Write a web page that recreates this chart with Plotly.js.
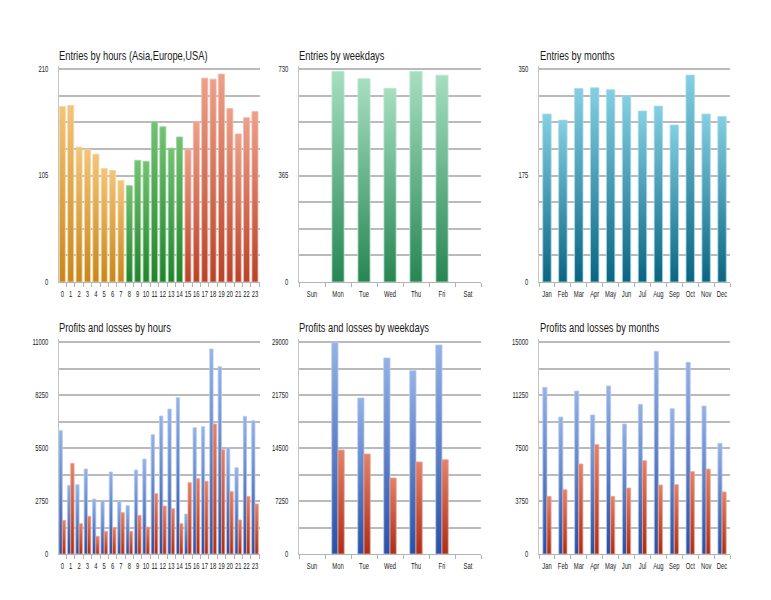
<!DOCTYPE html>
<html>
<head>
<meta charset="utf-8">
<script src="https://cdn.plot.ly/plotly-3.0.1.min.js"></script>
<style>
  html, body { margin: 0; padding: 0; background: #fff; }
  #chart { width: 771px; height: 600px; }
</style>
</head>
<body>
<div id="chart"></div>
<script>
// ---------------- data ----------------
const hourLabels = ['0','1','2','3','4','5','6','7','8','9','10','11','12','13','14','15','16','17','18','19','20','21','22','23'];
const hourSession = ['Asia','Asia','Asia','Asia','Asia','Asia','Asia','Asia','Europe','Europe','Europe','Europe','Europe','Europe','Europe','USA','USA','USA','USA','USA','USA','USA','USA','USA'];
const sessions = ['Asia','Europe','USA'];
const hourEntries = [173,174,133,131,126,112,110,100,95,120,119,158,153,132,143,131,158,201,200,205,171,146,162,168];

const weekdayLabels = ['Sun','Mon','Tue','Wed','Thu','Fri','Sat'];
const weekdayEntries = [0,722,697,664,722,709,0];

const monthLabels = ['Jan','Feb','Mar','Apr','May','Jun','Jul','Aug','Sep','Oct','Nov','Dec'];
const monthEntries = [276,266,318,319,316,306,281,289,258,340,276,272];

const hourProfit = [6399,3563,3597,4410,2854,2785,4255,2733,2508,4358,4929,6192,7160,7523,8111,2075,6555,6607,10636,9720,5517,4479,7143,6918];
const hourLoss   = [1747,4704,1574,1954,917,1176,1366,2145,1176,2006,1401,3130,2490,2352,1574,3701,3909,3770,6745,5413,3234,1764,2992,2594];

const weekdayProfit = [0,28950,21340,26810,25080,28590,0];
const weekdayLoss   = [0,14230,13680,10400,12590,12900,0];

const monthProfit = [11790,9690,11530,9840,11890,9200,10590,14340,10280,13560,10470,7830];
const monthLoss   = [4080,4550,6370,7740,4080,4670,6600,4880,4910,5830,6010,4390];

const panelTitles = ['Entries by hours (Asia,Europe,USA)','Entries by weekdays','Entries by months',
                     'Profits and losses by hours','Profits and losses by weekdays','Profits and losses by months'];
const yMax = [210, 730, 350, 11000, 29000, 15000];
const yLabelSteps = [2, 2, 2, 4, 4, 4];   // labelled ticks per axis (0 excluded)

// ---------------- styles ----------------
const FONT = '"Liberation Sans", Arial, sans-serif';
const SQUEEZE = 0.69;   // the reference's lettering is horizontally condensed
const grads = {
  Asia:    ['#f3c47a', '#c8861c', '#f7d59c'],
  Europe:  ['#74c274', '#22822e', '#95d595'],
  USA:     ['#eda08a', '#b9422a', '#f2b8a6'],
  wkEntry: ['#a6dfc1', '#278653', '#bfe9d2'],
  moEntry: ['#84cfe3', '#0a6582', '#a8dcea'],
  profit:  ['#94b2e6', '#2a4fa6', '#b5c9ee'],
  loss:    ['#e3826a', '#ad2d17', '#eba594']
};

const W = 771, H = 600;
const TOPPAD = 3;   // px of headroom so the top gridline is kept
const colsX = [[59,260],[299,481],[539,730]];
const rowsY = [[69,282],[342,554]];
const titlePos = [[57,55],[297,55],[538,55],[57,327],[297,327],[538,327]];
const xRanges = [[-0.4,23.6],[-0.5,6.5],[-0.5,11.5],[-0.4,23.6],[-0.5,6.5],[-0.5,11.5]];
const catLists = [hourLabels, weekdayLabels, monthLabels, hourLabels, weekdayLabels, monthLabels];

const layout = {
  width: W, height: H,
  margin: {l:0, r:0, t:0, b:0},
  paper_bgcolor: '#ffffff', plot_bgcolor: 'rgba(0,0,0,0)',
  barmode: 'overlay',
  showlegend: false,
  font: {family: FONT, size: 8.5, color: '#222'},
  annotations: []
};

for (let i = 0; i < 6; i++) {
  const col = i % 3, row = Math.floor(i / 3);
  const sfx = i === 0 ? '' : String(i + 1);
  const plotH = rowsY[row][1] - rowsY[row][0];
  layout['xaxis' + sfx] = {
    type: 'category',
    categoryorder: 'array', categoryarray: catLists[i],
    domain: [colsX[col][0] / W, colsX[col][1] / W],
    anchor: 'y' + sfx,
    range: xRanges[i],
    tickmode: 'linear', tick0: 0, dtick: 1, tickangle: 0,
    showgrid: false, zeroline: false,
    showline: true, linecolor: '#b3b3b3', linewidth: 1,
    ticks: 'outside', tickson: 'boundaries', ticklen: 4, tickcolor: '#b3b3b3', tickwidth: 1,
    tickfont: {family: FONT, size: 8.5, color: '#222'},
    ticklabelstandoff: 4,
    fixedrange: true
  };
  layout['yaxis' + sfx] = {
    domain: [1 - rowsY[row][1] / H, 1 - (rowsY[row][0] - TOPPAD) / H],
    anchor: 'x' + sfx,
    range: [0, yMax[i] * (1 + TOPPAD / plotH)],
    tick0: 0, dtick: yMax[i] / yLabelSteps[i], tickformat: 'd',
    showgrid: true, gridcolor: '#bababa', gridwidth: 2,
    minor: {dtick: yMax[i] / 8, showgrid: true, gridcolor: '#bababa', gridwidth: 2, ticks: ''},
    zeroline: false,
    showline: true, linecolor: '#c4c4c4', linewidth: 1,
    ticks: '',
    tickfont: {family: FONT, size: 8.5, color: '#222'},
    ticklabelstandoff: 8,
    fixedrange: true
  };
  layout.annotations.push({
    text: panelTitles[i], xref: 'paper', yref: 'paper',
    x: titlePos[i][0] / W, y: 1 - titlePos[i][1] / H,
    xanchor: 'left', yanchor: 'middle', showarrow: false,
    font: {family: FONT, size: 13.5, color: '#1a1a1a'}
  });
}

function bar(name, x, y, xa, ya, width, offset) {
  const t = {
    type: 'bar', name: name, meta: name, x: x, y: y, xaxis: xa, yaxis: ya,
    width: width,
    marker: {color: grads[name][1], line: {color: grads[name][2], width: y.map(v => v > 0 ? 0.8 : 0)}},
    hoverinfo: 'skip'
  };
  if (offset !== undefined) t.offset = offset;
  return t;
}

const data = [];
sessions.forEach(s => {
  const xs = [], ys = [];
  hourLabels.forEach((h, k) => { if (hourSession[k] === s) { xs.push(h); ys.push(hourEntries[k]); } });
  data.push(bar(s, xs, ys, 'x', 'y', 0.72));
});
data.push(bar('wkEntry', weekdayLabels, weekdayEntries, 'x2', 'y2', 0.47));
data.push(bar('moEntry', monthLabels, monthEntries, 'x3', 'y3', 0.53));
data.push(bar('profit', hourLabels, hourProfit, 'x4', 'y4', 0.4, -0.4));
data.push(bar('loss', hourLabels, hourLoss, 'x4', 'y4', 0.4, 0));
data.push(bar('profit', weekdayLabels, weekdayProfit, 'x5', 'y5', 0.24, -0.24));
data.push(bar('loss', weekdayLabels, weekdayLoss, 'x5', 'y5', 0.24, 0));
data.push(bar('profit', monthLabels, monthProfit, 'x6', 'y6', 0.26, -0.26));
data.push(bar('loss', monthLabels, monthLoss, 'x6', 'y6', 0.26, 0));

const gd = document.getElementById('chart');
Plotly.newPlot(gd, data, layout, {displayModeBar: false, staticPlot: true}).then(() => {
  const NS = 'http://www.w3.org/2000/svg';
  try {
    const svg = gd.querySelector('svg.main-svg');
    let defs = svg.querySelector('defs');
    if (!defs) { defs = document.createElementNS(NS, 'defs'); svg.insertBefore(defs, svg.firstChild); }
    Object.keys(grads).forEach(k => {
      const lg = document.createElementNS(NS, 'linearGradient');
      lg.setAttribute('id', 'grad-' + k);
      lg.setAttribute('x1', '0'); lg.setAttribute('y1', '0');
      lg.setAttribute('x2', '0'); lg.setAttribute('y2', '1');
      [[0, grads[k][0]], [1, grads[k][1]]].forEach(([o, c]) => {
        const st = document.createElementNS(NS, 'stop');
        st.setAttribute('offset', String(o));
        st.setAttribute('stop-color', c);
        lg.appendChild(st);
      });
      defs.appendChild(lg);
    });
    gd.querySelectorAll('g.trace.bars').forEach(g => {
      const cd = g.__data__;
      const tr = cd && cd[0] && cd[0].trace;
      if (!tr || !grads[tr.meta]) return;
      g.querySelectorAll('path').forEach(p => { p.style.fill = 'url(#grad-' + tr.meta + ')'; });
    });
  } catch (e) { console.error(e); }
  // condense lettering horizontally, keeping each label's anchor point
  try {
    gd.querySelectorAll('g.annotation text').forEach(t => {
      const bb = t.getBBox();
      const w = t.getComputedTextLength();
      if (!(w > 0)) return;
      t.setAttribute('text-anchor', 'start');
      t.style.textAnchor = 'start';
      t.setAttribute('x', String(bb.x));
      t.setAttribute('textLength', String(w * SQUEEZE));
      t.setAttribute('lengthAdjust', 'spacingAndGlyphs');
    });
    gd.querySelectorAll('g[class*="tick"] text').forEach(t => {
      const w = t.getComputedTextLength();
      if (!(w > 0)) return;
      t.setAttribute('textLength', String(w * SQUEEZE));
      t.setAttribute('lengthAdjust', 'spacingAndGlyphs');
    });
  } catch (e) { console.error(e); }
});
</script>
</body>
</html>
